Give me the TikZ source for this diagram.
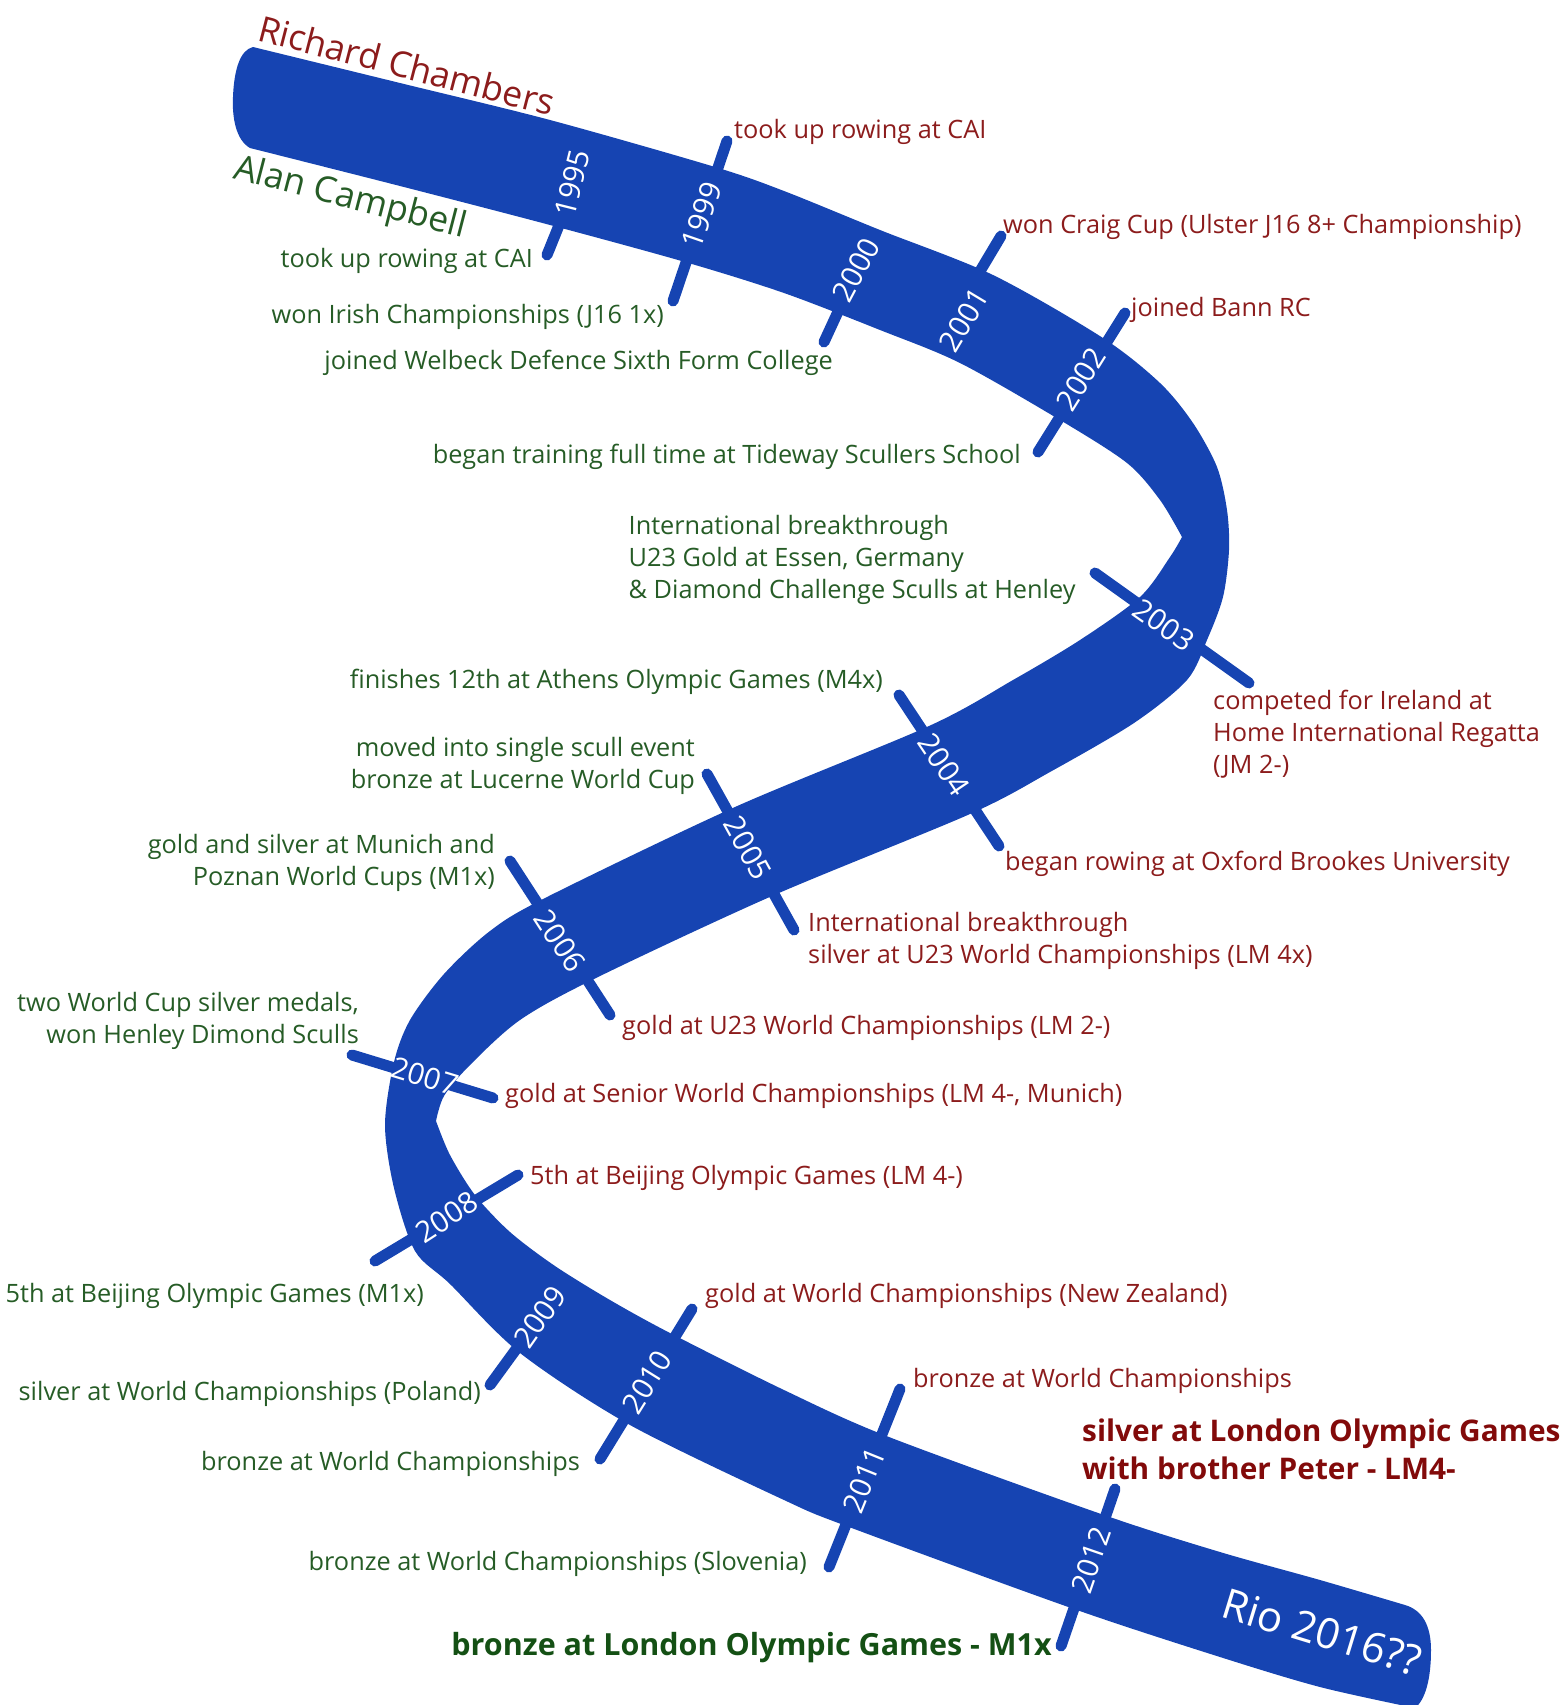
\documentclass[tikz,border=0pt]{standalone}
\usepackage{fontspec}
\setmainfont{Open Sans}
\definecolor{bandblue}{RGB}{22,68,178}
\definecolor{rctext}{RGB}{140,28,28}
\definecolor{actext}{RGB}{38,92,38}
\definecolor{rcbold}{RGB}{130,10,10}
\definecolor{acbold}{RGB}{20,80,20}
\begin{document}
\begin{tikzpicture}[x=1pt,y=-1pt,
  rc/.style={text=rctext, font=\fontsize{25.3}{32}\selectfont, inner sep=0pt},
  ac/.style={text=actext, font=\fontsize{25.3}{32}\selectfont, inner sep=0pt},
  rcb/.style={text=rcbold, font=\fontsize{29.8}{38}\selectfont\bfseries, inner sep=0pt},
  acb/.style={text=acbold, font=\fontsize{30.5}{38}\selectfont\bfseries, inner sep=0pt},
  yr/.style={text=white, font=\fontsize{29.5}{29.5}\selectfont, inner sep=0pt},
  yeartick/.style={draw=bandblue, line width=11pt, line cap=round},
  namelab/.style={font=\fontsize{35.5}{36}\selectfont, inner sep=0pt, anchor=base west, rotate=-14.5}]
\useasboundingbox (0,0) rectangle (1567,1705);
% ---------- band ----------
\fill[bandblue]
  plot[smooth,tension=0.5] coordinates {(253,47) (400,83) (550,120) (715,167) (784,191) (880,230) (993,275) (1103,338) (1160,383) (1193,423) (1217,467) (1227,510) (1229,550) (1223,597) (1207,640) (1187,680) (1134,723) (1050,772) (970,814) (772,896) (596,978) (520,1020) (469,1066) (444,1096) (436,1121)}
  -- plot[smooth,tension=0.5] coordinates {(436,1121) (450,1155) (475,1195) (510,1232) (555,1266) (610,1300) (670,1333) (784,1390) (889,1437) (1104,1515) (1220,1552) (1320,1580) (1405,1605)}
  .. controls (1422,1610) and (1431,1625) .. (1431,1650)
  .. controls (1431,1680) and (1425,1700) .. (1415,1708)
  -- plot[smooth,tension=0.5] coordinates {(1415,1708) (1320,1687) (1220,1657) (1074,1609) (849,1527) (784,1500) (630,1425) (520,1353) (450,1284) (415,1251) (394,1188) (385,1125) (394,1062) (410,1020) (444,974) (490,931) (545,898) (735,807) (929,726) (1013,680) (1080,640) (1140,597) (1170,557) (1182,537)}
  -- plot[smooth,tension=0.5] coordinates {(1182,537) (1160,500) (1127,463) (1060,420) (960,363) (880,330) (784,293) (685,262) (550,225) (400,186) (250,148)}
  .. controls (236,140) and (232,118) .. (233,97)
  .. controls (234,70) and (240,50) .. (253,47) -- cycle;
% ---------- tick ends ----------
\coordinate (a1995) at (547,255);   \coordinate (b1995) at (568,203);
\coordinate (a1999) at (727,141);   \coordinate (b1999) at (673,301);
\coordinate (a2000) at (824,342);   \coordinate (b2000) at (848,290);
\coordinate (a2001) at (1001,236);  \coordinate (b2001) at (967,293);
\coordinate (a2002) at (1125,313);  \coordinate (b2002) at (1038,452);
\coordinate (a2003) at (1095,573);  \coordinate (b2003) at (1249,683);
\coordinate (a2004) at (899,695);   \coordinate (b2004) at (999,846);
\coordinate (a2005) at (707,774);   \coordinate (b2005) at (794,930);
\coordinate (a2006) at (510,861);   \coordinate (b2006) at (610,1015);
\coordinate (a2007) at (352,1055);  \coordinate (b2007) at (493,1098);
\coordinate (a2008) at (518,1175);  \coordinate (b2008) at (375,1261);
\coordinate (a2009) at (490,1385);  \coordinate (b2009) at (533,1326);
\coordinate (a2010) at (692,1309);  \coordinate (b2010) at (600,1459);
\coordinate (a2011) at (900,1389);  \coordinate (b2011) at (829,1567);
\coordinate (a2012) at (1115,1489); \coordinate (b2012) at (1061,1646);
\foreach \y in {1995,1999,2000,2001,2002,2003,2004,2005,2006,2007,2008,2009,2010,2011,2012}
  \draw[yeartick] (a\y) -- (b\y);
% ---------- year labels ----------
\node[yr, rotate=76] (y1995) at (572,183) {1995};
\node[yr, rotate=71] (y1999) at (702,215) {1999};
\node[yr, rotate=62] (y2000) at (856,270) {2000};
\node[yr, rotate=59] (y2001) at (964,320) {2001};
\node[yr, rotate=58] (y2002) at (1081,379) {2002};
\node[yr, rotate=-35] (y2003) at (1164,625) {2003};
\node[yr, rotate=-56] (y2004) at (944,765) {2004};
\node[yr, rotate=-61] (y2005) at (748,848) {2005};
\node[yr, rotate=-57] (y2006) at (560,941) {2006};
\node[yr, rotate=-17] (y2007) at (425,1076) {2007};
\node[yr, rotate=33] (y2008) at (447,1217) {2008};
\node[yr, rotate=55] (y2009) at (540,1317) {2009};
\node[yr, rotate=58] (y2010) at (647,1382) {2010};
\node[yr, rotate=68] (y2011) at (864,1480) {2011};
\node[yr, rotate=71] (y2012) at (1091,1560) {2012};
\node[yr, font=\fontsize{42}{42}\selectfont, rotate=-17] (rio) at (1322,1632) {Rio 2016??};
% ---------- names ----------
\node[namelab, text=rctext] (rname) at (256,40) {Richard Chambers};
\node[namelab, text=actext] (aname) at (232,178) {Alan Campbell};
% ---------- Richard Chambers (red) ----------
\node[rc, anchor=base west] (r1999) at (734,138) {took up rowing at CAI};
\node[rc, anchor=base west] (r2001) at (1003,233) {won Craig Cup (Ulster J16 8+ Championship)};
\node[rc, anchor=base west] (r2002) at (1131,316) {joined Bann RC};
\node[rc, anchor=north west, align=left] (r2003) at (1213,689.5) {competed for Ireland at\\Home International Regatta\\(JM 2-)};
\node[rc, anchor=base west] (r2004) at (1005,870) {began rowing at Oxford Brookes University};
\node[rc, anchor=north west, align=left] (r2005) at (808,912.5) {International breakthrough\\silver at U23 World Championships (LM 4x)};
\node[rc, anchor=base west] (r2006) at (622,1034) {gold at U23 World Championships (LM 2-)};
\node[rc, anchor=base west] (r2007) at (505,1102) {gold at Senior World Championships (LM 4-, Munich)};
\node[rc, anchor=base west] (r2008) at (530,1184) {5th at Beijing Olympic Games (LM 4-)};
\node[rc, anchor=base west] (r2010) at (705,1302) {gold at World Championships (New Zealand)};
\node[rc, anchor=base west] (r2011) at (913,1387) {bronze at World Championships};
\node[rcb, anchor=north west, align=left] (r2012) at (1082,1418.6) {silver at London Olympic Games\\with brother Peter - LM4-};
% ---------- Alan Campbell (green) ----------
\node[ac, anchor=base east] (a1995t) at (533,267) {took up rowing at CAI};
\node[ac, anchor=base east] (a1999t) at (664,323) {won Irish Championships (J16 1x)};
\node[ac, anchor=base east] (a2000t) at (833,369) {joined Welbeck Defence Sixth Form College};
\node[ac, anchor=base east] (a2002t) at (1021,463) {began training full time at Tideway Scullers School};
\node[ac, anchor=north west, align=left] (a2003t) at (628.5,515.5) {International breakthrough\\U23 Gold at Essen, Germany\\\& Diamond Challenge Sculls at Henley};
\node[ac, anchor=base east] (a2004t) at (883,688) {finishes 12th at Athens Olympic Games (M4x)};
\node[ac, anchor=north east, align=right] (a2005t) at (695,737.5) {moved into single scull event\\bronze at Lucerne World Cup};
\node[ac, anchor=north east, align=right] (a2006t) at (495,834) {gold and silver at Munich and\\Poznan World Cups (M1x)};
\node[ac, anchor=north east, align=right] (a2007t) at (359,992.5) {two World Cup silver medals,\\won Henley Dimond Sculls};
\node[ac, anchor=base east] (a2008t) at (424,1302) {5th at Beijing Olympic Games (M1x)};
\node[ac, anchor=base east] (a2009t) at (481,1400) {silver at World Championships (Poland)};
\node[ac, anchor=base east] (a2010t) at (580,1470) {bronze at World Championships};
\node[ac, anchor=base east] (a2011t) at (807,1570) {bronze at World Championships (Slovenia)};
\node[acb, anchor=base east] (a2012t) at (1052,1655) {bronze at London Olympic Games - M1x};
\end{tikzpicture}
\end{document}
